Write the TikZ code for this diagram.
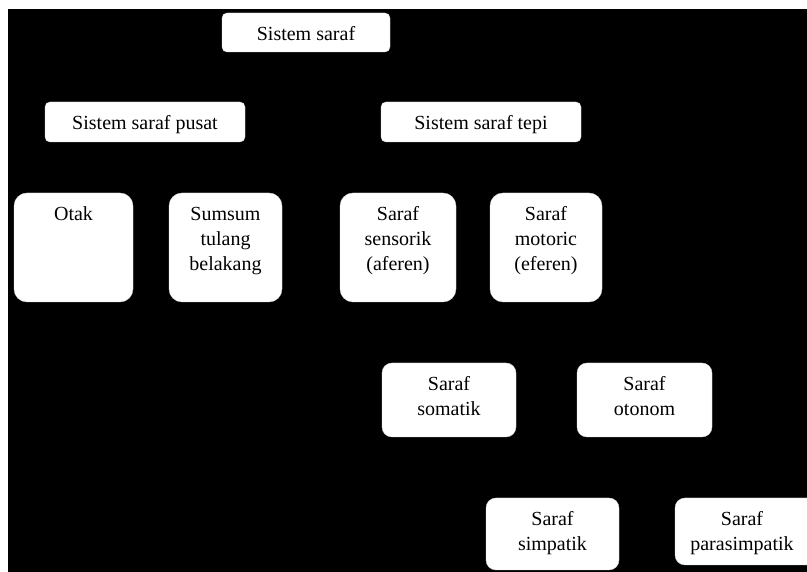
\documentclass[tikz,border=0pt]{standalone}
\usepackage{fontspec}
\setmainfont{Liberation Serif}
\begin{document}
\begin{tikzpicture}[x=1pt,y=1pt,
  box/.style={fill=white, draw=white!85!black, line width=0.4pt, inner sep=0pt, rounded corners=#1},
  box/.default=12pt,
  lbl/.style={anchor=north, yshift=-10.5pt, inner sep=0pt, align=center,
    font=\fontsize{20}{25}\selectfont}]
\useasboundingbox (0,0) rectangle (807,572);
\clip (0,0) rectangle (807,572);
\fill[white] (0,0) rectangle (807,572);
\fill[black] (8,0) rectangle (807,563);
% level 0
\node[box=5pt, minimum width=168pt, minimum height=39pt,
  label={[lbl]north:\strut Sistem saraf}] (ss) at (306,539.5) {};
% level 1
\node[box=5pt, minimum width=200pt, minimum height=40pt,
  label={[lbl]north:\strut Sistem saraf pusat}] (pusat) at (145,450) {};
\node[box=5pt, minimum width=200pt, minimum height=40pt,
  label={[lbl]north:\strut Sistem saraf tepi}] (tepi) at (481,450) {};
% level 2
\node[box=13pt, minimum width=119pt, minimum height=109pt,
  label={[lbl]north:\strut Otak}] (otak) at (73.5,324.5) {};
\node[box=13pt, minimum width=113pt, minimum height=109pt,
  label={[lbl]north:\strut Sumsum\\tulang\\belakang}] (sumsum) at (225.5,324.5) {};
\node[box=13pt, minimum width=116pt, minimum height=109pt,
  label={[lbl]north:\strut Saraf\\sensorik\\(aferen)}] (sensorik) at (398,324.5) {};
\node[box=13pt, minimum width=112pt, minimum height=109pt,
  label={[lbl]north:\strut Saraf\\motoric\\(eferen)}] (motoric) at (546,324.5) {};
% level 3
\node[box=10pt, minimum width=134pt, minimum height=74pt,
  label={[lbl]north:\strut Saraf\\somatik}] (somatik) at (449,172) {};
\node[box=10pt, minimum width=135pt, minimum height=74pt,
  label={[lbl]north:\strut Saraf\\otonom}] (otonom) at (644.5,172) {};
% level 4
\node[box=10pt, minimum width=133pt, minimum height=72pt,
  label={[lbl]north:\strut Saraf\\simpatik}] (simpatik) at (552.5,38) {};
\node[box=10pt, minimum width=142pt, minimum height=67pt,
  label={[lbl, xshift=-4pt]north:\strut Saraf\\parasimpatik}] (parasimpatik) at (746,40.5) {};
\end{tikzpicture}
\end{document}
